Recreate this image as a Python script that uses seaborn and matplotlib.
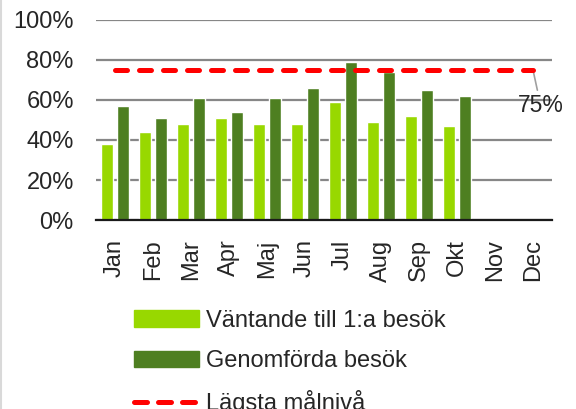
import numpy as np
import pandas as pd
import matplotlib
matplotlib.use("Agg")
import matplotlib.pyplot as plt
from matplotlib.lines import Line2D
import seaborn as sns

# Monthly share of patients (%), Nov/Dec not yet reported
months = ["Jan", "Feb", "Mar", "Apr", "Maj", "Jun", "Jul", "Aug", "Sep", "Okt", "Nov", "Dec"]
vantande = [38, 44, 48, 51, 48, 48, 59, 49, 52, 47, np.nan, np.nan]
genomforda = [57, 51, 61, 54, 61, 66, 79, 74, 65, 62, np.nan, np.nan]
malniva = [75, 75, 75, 75, 75, 75, 75, 75, 75, 75, 75, 75]
yticks = [0, 20, 40, 60, 80, 100]

serie_v = "Väntande till 1:a besök"
serie_g = "Genomförda besök"
serie_m = "Lägsta målnivå"

df = pd.DataFrame({
    "Månad": months * 2,
    "Andel": vantande + genomforda,
    "Serie": [serie_v] * len(months) + [serie_g] * len(months),
})

sns.set_style("white")
plt.rcParams["font.family"] = ["Liberation Sans", "DejaVu Sans"]
text_color = "#262626"

fig = plt.figure(figsize=(5.76, 4.09), dpi=100)
ax = fig.add_axes([96 / 576, 1 - 220 / 409, 456 / 576, 200 / 409])

light_green = "#98D800"
dark_green = "#4E7F21"

sns.barplot(data=df, x="Månad", y="Andel", hue="Serie", order=months,
            hue_order=[serie_v, serie_g], palette=[light_green, dark_green],
            width=0.84, gap=0.19, saturation=1, legend=False, ax=ax, zorder=3)

sns.lineplot(x=np.arange(len(months)), y=malniva, color="#FF0000", lw=3.6,
             ax=ax, zorder=4, dashes=False)
line = ax.get_lines()[-1]
line.set_dashes([2.4, 2.4])
line.set_dash_capstyle("round")

# Label for the target level, with a leader line from the end of the line
ax.annotate(f"{malniva[-1]}%", xy=(len(months) - 1, malniva[-1]),
            xytext=(len(months) - 1 + 0.2, malniva[-1] - 17.5),
            ha="center", va="center", fontsize=16.5, color=text_color,
            arrowprops=dict(arrowstyle="-", color="#A0A0A0", lw=1.2,
                            shrinkA=0, shrinkB=0))

ax.set_xlim(-0.5, len(months) - 0.5)
ax.set_ylim(0, 100)
ax.set_yticks(yticks)
ax.set_yticklabels([f"{v}%" for v in yticks])
ax.set_xlabel("")
ax.set_ylabel("")
ax.tick_params(axis="x", rotation=90, labelsize=17, pad=14, length=0, colors=text_color)
ax.tick_params(axis="y", labelsize=17, pad=16, length=0, colors=text_color)
for lab in ax.get_xticklabels():
    lab.set_va("top")

ax.yaxis.grid(True, color="#878787", lw=1.6)
ax.set_axisbelow(True)
for s in ["top", "right", "left"]:
    ax.spines[s].set_visible(False)
ax.spines["bottom"].set_color("#1a1a1a")
ax.spines["bottom"].set_linewidth(1.6)
ax.spines["bottom"].set_zorder(5)

handles = [
    plt.Rectangle((0, 0), 1, 1, color=light_green),
    plt.Rectangle((0, 0), 1, 1, color=dark_green),
    Line2D([0], [0], color="#FF0000", lw=3.6, dashes=[2.6, 2.2],
           dash_capstyle="round"),
]
fig.legend(handles, [serie_v, serie_g, serie_m], loc="upper left",
           bbox_to_anchor=(134 / 576, 1 - 310 / 409), frameon=False,
           fontsize=17, handlelength=2.75, handleheight=0.72,
           handletextpad=0.3, labelspacing=0.77, borderpad=0,
           borderaxespad=0, labelcolor=text_color)

fig.add_artist(Line2D([0.002, 0.002], [0, 1], color="#D9D9D9", lw=1.5))

fig.savefig("out.png", dpi=100)
